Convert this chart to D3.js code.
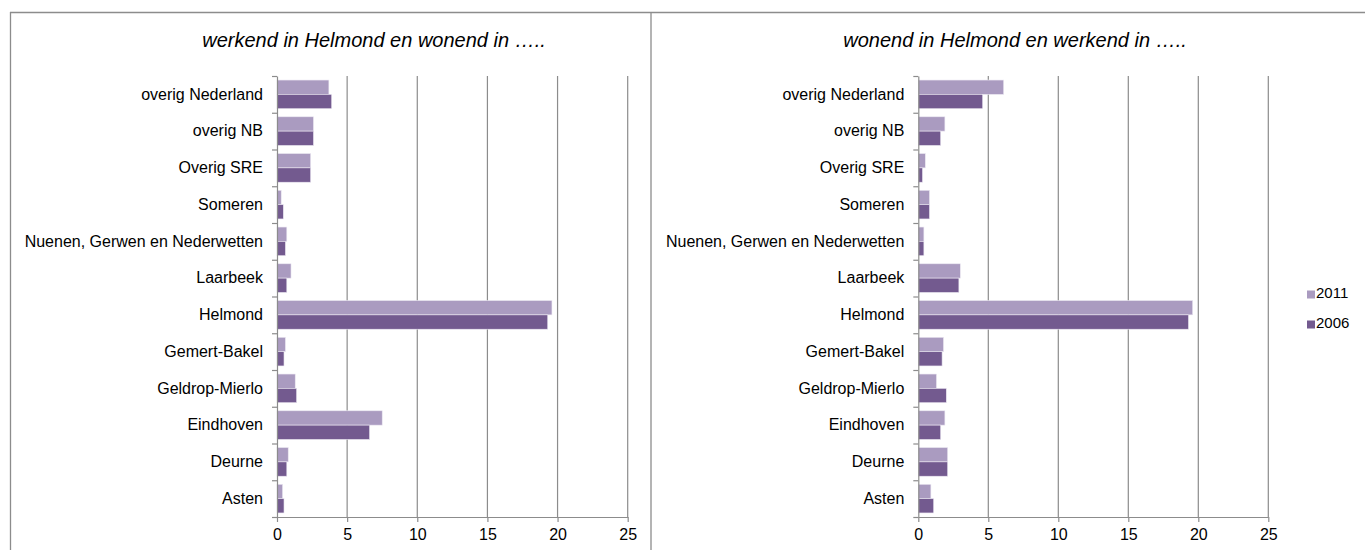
<!DOCTYPE html>
<html>
<head>
<meta charset="utf-8">
<script src="https://cdn.jsdelivr.net/npm/d3@7"></script>
<style>
  html, body { margin: 0; padding: 0; background: #fff; }
  svg { display: block; font-family: "Liberation Sans", Arial, sans-serif; }
</style>
</head>
<body>
<svg id="chart" width="1365" height="550"></svg>
<script>
// ---- data ----
const categories = ["overig Nederland", "overig NB", "Overig SRE", "Someren",
  "Nuenen, Gerwen en Nederwetten", "Laarbeek", "Helmond", "Gemert-Bakel",
  "Geldrop-Mierlo", "Eindhoven", "Deurne", "Asten"];
const seriesNames = ["2011", "2006"];
const leftTitle = "werkend in Helmond en wonend in …..";
const rightTitle = "wonend in Helmond en werkend in …..";
const left2011 = [3.7, 2.6, 2.4, 0.3, 0.7, 1.0, 19.6, 0.6, 1.3, 7.5, 0.8, 0.4];
const left2006 = [3.9, 2.6, 2.4, 0.45, 0.6, 0.7, 19.3, 0.5, 1.4, 6.6, 0.7, 0.5];
const right2011 = [6.1, 1.9, 0.5, 0.8, 0.4, 3.0, 19.6, 1.8, 1.3, 1.9, 2.1, 0.9];
const right2006 = [4.6, 1.6, 0.3, 0.8, 0.4, 2.9, 19.3, 1.7, 2.0, 1.6, 2.1, 1.1];
const xTicks = [0, 5, 10, 15, 20, 25];

// ---- styles ----
const colors = {"2011": "#aa9bc0", "2006": "#735a8f"};
const gridColor = "#8c8c8c";
const frameColor = "#8c8c8c";

const svg = d3.select("#chart");

// frames
svg.append("line").attr("x1", 10).attr("x2", 1365).attr("y1", 12.5).attr("y2", 12.5)
  .attr("stroke", frameColor).attr("stroke-width", 1.3);
svg.append("line").attr("x1", 10.5).attr("x2", 10.5).attr("y1", 12).attr("y2", 550)
  .attr("stroke", frameColor).attr("stroke-width", 1.3);
svg.append("line").attr("x1", 651).attr("x2", 651).attr("y1", 12).attr("y2", 550)
  .attr("stroke", frameColor).attr("stroke-width", 1.3);

function drawPanel(x0, x1, title, titleX, v2011, v2006) {
  const top = 76, bottom = 517;
  const g = svg.append("g");
  const x = d3.scaleLinear().domain([0, 25]).range([x0, x1]);
  const y = d3.scaleBand().domain(categories).range([top, bottom])
    .paddingInner(0.22).paddingOuter(0.11);
  const ySub = d3.scaleBand().domain(seriesNames).range([0, y.bandwidth()]);
  const yBound = d3.scaleLinear().domain([0, categories.length]).range([top, bottom]);

  // title
  g.append("text").attr("x", titleX).attr("y", 47).attr("text-anchor", "middle")
    .attr("font-size", 20).attr("font-style", "italic").attr("fill", "#000").text(title);

  // gridlines
  g.append("g").selectAll("line").data(xTicks.filter(d => d > 0)).join("line")
    .attr("x1", d => x(d)).attr("x2", d => x(d))
    .attr("y1", top).attr("y2", bottom)
    .attr("stroke", gridColor).attr("stroke-width", 1.2);

  // bars
  const rows = categories.map((c, i) => ({cat: c, vals: [
    {s: "2011", v: v2011[i]}, {s: "2006", v: v2006[i]}]}));
  const rg = g.append("g").selectAll("g").data(rows).join("g")
    .attr("transform", d => `translate(0,${y(d.cat)})`);
  rg.selectAll("rect").data(d => d.vals).join("rect")
    .attr("x", x(0))
    .attr("y", d => ySub(d.s))
    .attr("width", d => x(d.v) - x(0))
    .attr("height", ySub.bandwidth())
    .attr("fill", d => colors[d.s])
    .attr("stroke", "#ece8f2").attr("stroke-width", 0.6);

  // x axis
  const xa = g.append("g").attr("transform", `translate(0,${bottom})`)
    .call(d3.axisBottom(x).tickValues(xTicks).tickSize(5).tickPadding(7).tickSizeOuter(0));
  xa.selectAll("line").attr("stroke", gridColor).attr("stroke-width", 1.2);
  xa.select(".domain").attr("stroke", gridColor).attr("stroke-width", 1.2);
  xa.selectAll("text").attr("font-size", 16).attr("font-family", "Liberation Sans, Arial, sans-serif").attr("fill", "#000");

  // y axis boundary ticks
  const yb = g.append("g").attr("transform", `translate(${x0},0)`)
    .call(d3.axisLeft(yBound).ticks(categories.length).tickSize(5).tickFormat("").tickSizeOuter(0));
  yb.selectAll("line").attr("stroke", gridColor).attr("stroke-width", 1.2);
  yb.select(".domain").attr("stroke", gridColor).attr("stroke-width", 1.2);

  // y category labels
  const yl = g.append("g").attr("transform", `translate(${x0},0)`)
    .call(d3.axisLeft(y).tickSize(0).tickPadding(14));
  yl.select(".domain").remove();
  yl.selectAll("text").attr("font-size", 16).attr("font-family", "Liberation Sans, Arial, sans-serif").attr("fill", "#000");
}

drawPanel(277, 627.7, leftTitle, 374, left2011, left2006);
drawPanel(918.3, 1268.3, rightTitle, 1015, right2011, right2006);

// legend
const lg = svg.append("g").attr("transform", "translate(1307,283)");
const li = lg.selectAll("g").data(seriesNames).join("g")
  .attr("transform", (d, i) => `translate(0,${i * 30})`);
li.append("rect").attr("x", 0).attr("y", 7.5).attr("width", 8).attr("height", 8)
  .attr("fill", d => colors[d]);
li.append("text").attr("x", 9).attr("y", 9.5).attr("dy", "0.35em")
  .attr("font-size", 15).attr("fill", "#000").text(d => d);
</script>
</body>
</html>
